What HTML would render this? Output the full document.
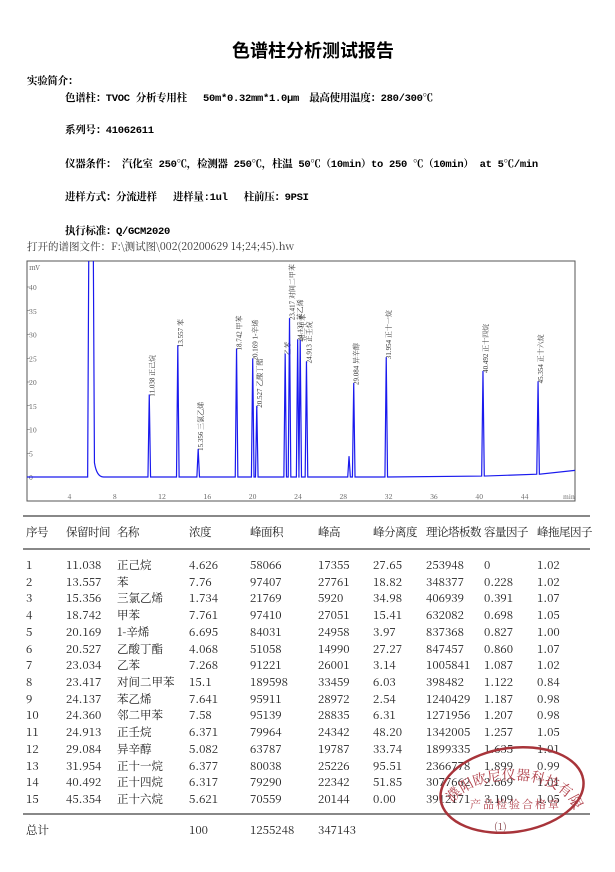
<!DOCTYPE html>
<html><head><meta charset="utf-8"><style>
body{margin:0;background:#fff;width:615px;height:872px;position:relative;overflow:hidden;font-family:"Noto Serif CJK SC",serif;}
.t{position:absolute;white-space:nowrap;line-height:14px;}
.b{font-weight:bold;font-size:10.5px;font-family:"Liberation Mono","Noto Serif CJK SC",serif;letter-spacing:-0.3px;}
.tb{position:absolute;font-size:11.5px;line-height:14px;color:#222;white-space:nowrap;font-family:"Noto Serif CJK SC",serif;}
</style></head><body>
<div class="t" style="left:232px;top:40px;font-size:18px;line-height:20px;font-weight:bold;font-family:'Noto Sans CJK SC',sans-serif;">色谱柱分析测试报告</div>
<div class="t b" style="left:27px;top:75px;">实验简介：</div>
<div class="t b" style="left:65px;top:92px;">色谱柱：TVOC 分析专用柱　 50m*0.32mm*1.0μm　最高使用温度：280/300℃</div>
<div class="t b" style="left:65px;top:124px;">系列号：41062611</div>
<div class="t b" style="left:65px;top:158px;">仪器条件： 汽化室 250℃，检测器 250℃，柱温 50℃（10min）to 250 ℃（10min） at 5℃/min</div>
<div class="t b" style="left:65px;top:191px;">进样方式：分流进样　 进样量:1ul　 柱前压：9PSI</div>
<div class="t b" style="left:65px;top:225px;">执行标准：Q/GCM2020</div>
<div class="t" style="left:27px;top:240px;font-size:10.5px;color:#333;">打开的谱图文件：F:\测试图\002(20200629 14;24;45).hw</div>
<svg id="ch" style="position:absolute;left:0;top:0" width="615" height="872"></svg>
<div id="tbl"></div>
<div class="tb" style="left:26px;top:823px;">总计</div>
<div class="tb" style="left:189px;top:823px;">100</div>
<div class="tb" style="left:250px;top:823px;">1255248</div>
<div class="tb" style="left:318px;top:823px;">347143</div>
<div style="position:absolute;left:23px;top:515px;width:567px;border-top:2px solid #888"></div>
<div style="position:absolute;left:23px;top:548px;width:567px;border-top:2px solid #888"></div>
<div style="position:absolute;left:23px;top:813px;width:567px;border-top:2px solid #888"></div>
<svg style="position:absolute;left:0;top:0" width="615" height="872">
<g transform="rotate(-8 512 790)" fill="none" stroke="#a8343a" stroke-width="2.5">
<ellipse cx="512" cy="790" rx="72" ry="42"/>
<path id="arc" d="M452 805 A62 34 0 0 1 572 805" stroke="none"/>
</g>
<text font-size="14" fill="#b0404a" font-family="Noto Serif CJK SC,serif"><textPath href="#arc" startOffset="2">濮阳欧尼仪器科技有限公司</textPath></text>
<text x="470" y="808" font-size="11" fill="#b0404a" font-family="Noto Serif CJK SC,serif" letter-spacing="2">产品检验合格章</text>
<text x="494" y="830" font-size="10" fill="#8a4a50">(1)</text>
</svg>
<script>
var s='',X=t=>24.2+11.33*t,Y=v=>477-4.75*v;
s+='<defs><clipPath id="cp"><rect x="27" y="261" width="548" height="240"/></clipPath></defs>';
s+='<rect x="27" y="261" width="548" height="240" fill="none" stroke="#555" stroke-width="1"/>';
s+='<text x="29" y="270" font-size="7" fill="#555">mV</text>';
for(var v=0;v<=40;v+=5){s+='<text x="29" y="'+(Y(v)+3)+'" font-size="7" fill="#555">'+v+'</text><line x1="27" x2="30" y1="'+Y(v)+'" y2="'+Y(v)+'" stroke="#555" stroke-width=".5"/>';}
for(var t=4;t<=44;t+=4){s+='<text x="'+(X(t)-2)+'" y="499" font-size="7" fill="#555">'+t+'</text>';}
s+='<text x="563" y="499" font-size="6" fill="#555">min</text>';
var pk=[[11.038,17.355,'11.038 正己烷'],[13.557,27.761,'13.557 苯'],[15.356,5.92,'15.356 三氯乙烯'],[18.742,27.051,'18.742 甲苯'],[20.169,24.958,'20.169 1-辛烯'],[20.527,14.99,'20.527 乙酸丁酯'],[23.034,26.001,'乙苯'],[23.417,33.459,'23.417 对间二甲苯'],[24.137,28.972,'24.137 苯乙烯'],[24.36,28.835,'邻二甲苯'],[24.913,24.342,'24.913 正壬烷'],[28.67,4.4,''],[29.084,19.787,'29.084 异辛醇'],[31.954,25.226,'31.954 正十一烷'],[40.492,22.342,'40.492 正十四烷'],[45.354,20.144,'45.354 正十六烷']];
var base=t=>t<38?0:(t-38)*0.08;
var d='M27 '+Y(0)+' L'+X(5.6)+' '+Y(0)+' L'+X(5.7)+' 250 L'+X(6.1)+' 250 L'+X(6.2)+' '+Y(3)+' Q'+X(6.4)+' '+Y(0)+' '+X(7)+' '+Y(0);
pk.forEach(p=>{var x=X(p[0]);d+=' L'+(x-1.3)+' '+Y(base(p[0]))+' L'+x+' '+Y(p[1])+' L'+(x+1.3)+' '+Y(base(p[0]));
 if(p[2])s+='<text transform="translate('+(x+5)+','+(Y(p[1])+2)+') rotate(-90)" font-size="7" fill="#333" font-family="Liberation Serif,Noto Serif CJK SC,serif">'+p[2]+'</text>';});
d+=' L575 '+Y(1.4);
s+='<path clip-path="url(#cp)" d="'+d+'" fill="none" stroke="#1a1aee" stroke-width="1.2"/>';
document.getElementById('ch').innerHTML=s;
var rows=[[1,'11.038','正己烷','4.626','58066','17355','27.65','253948','0','1.02'],[2,'13.557','苯','7.76','97407','27761','18.82','348377','0.228','1.02'],[3,'15.356','三氯乙烯','1.734','21769','5920','34.98','406939','0.391','1.07'],[4,'18.742','甲苯','7.761','97410','27051','15.41','632082','0.698','1.05'],[5,'20.169','1-辛烯','6.695','84031','24958','3.97','837368','0.827','1.00'],[6,'20.527','乙酸丁酯','4.068','51058','14990','27.27','847457','0.860','1.07'],[7,'23.034','乙苯','7.268','91221','26001','3.14','1005841','1.087','1.02'],[8,'23.417','对间二甲苯','15.1','189598','33459','6.03','398482','1.122','0.84'],[9,'24.137','苯乙烯','7.641','95911','28972','2.54','1240429','1.187','0.98'],[10,'24.360','邻二甲苯','7.58','95139','28835','6.31','1271956','1.207','0.98'],[11,'24.913','正壬烷','6.371','79964','24342','48.20','1342005','1.257','1.05'],[12,'29.084','异辛醇','5.082','63787','19787','33.74','1899335','1.635','1.01'],[13,'31.954','正十一烷','6.377','80038','25226','95.51','2366778','1.899','0.99'],[14,'40.492','正十四烷','6.317','79290','22342','51.85','3077662','2.669','1.01'],[15,'45.354','正十六烷','5.621','70559','20144','0.00','3912171','3.109','1.05']];
var cx=[26,66,117,189,250,318,373,426,484,537],h='';
['序号','保留时间','名称','浓度','峰面积','峰高','峰分离度','理论塔板数','容量因子','峰拖尾因子'].forEach((c,i)=>h+='<div class="tb" style="left:'+cx[i]+'px;top:525px;letter-spacing:-0.5px">'+c+'</div>');
rows.forEach((r,j)=>r.forEach((c,i)=>h+='<div class="tb" style="left:'+cx[i]+'px;top:'+(558+j*16.72)+'px">'+c+'</div>'));
document.getElementById('tbl').innerHTML=h;
</script>
</body></html>
